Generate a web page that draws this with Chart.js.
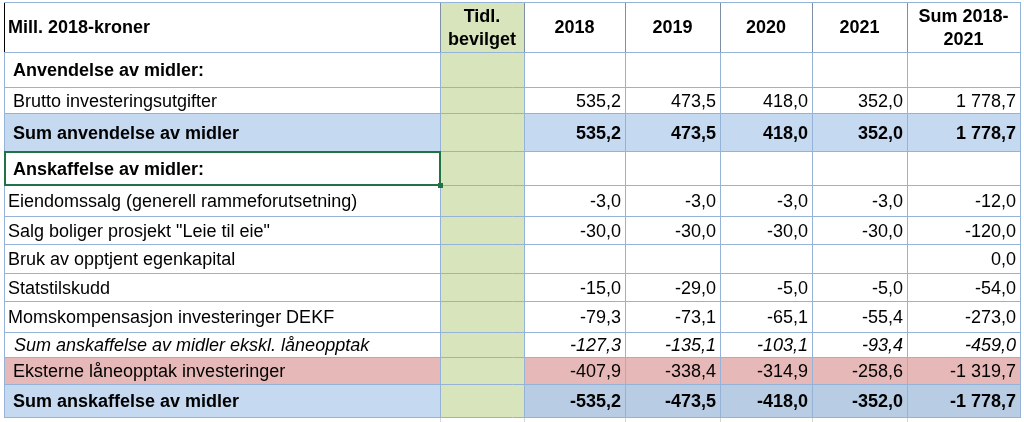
<!DOCTYPE html>
<html>
<head>
<meta charset="utf-8">
<script src="https://cdn.jsdelivr.net/npm/chart.js@4"></script>
<style>
  html, body { margin: 0; padding: 0; background: #fff; }
  canvas { display: block; }
</style>
</head>
<body>
<canvas id="table" width="1024" height="422"></canvas>
<script>
// data
const columnLabels = [['Mill. 2018-kroner'], ['Tidl.', 'bevilget'], ['2018'], ['2019'], ['2020'], ['2021'], ['Sum 2018-', '2021']];
const rowLabels = [
    'Anvendelse av midler:',
    'Brutto investeringsutgifter',
    'Sum anvendelse av midler',
    'Anskaffelse av midler:',
    'Eiendomssalg (generell rammeforutsetning)',
    'Salg boliger prosjekt "Leie til eie"',
    'Bruk av opptjent egenkapital',
    'Statstilskudd',
    'Momskompensasjon investeringer DEKF',
    'Sum anskaffelse av midler ekskl. låneopptak',
    'Eksterne låneopptak investeringer',
    'Sum anskaffelse av midler'
];
const tidlBevilget = [null, null, null, null, null, null, null, null, null, null, null, null];
const values2018 = [null, 535.2, 535.2, null, -3.0, -30.0, null, -15.0, -79.3, -127.3, -407.9, -535.2];
const values2019 = [null, 473.5, 473.5, null, -3.0, -30.0, null, -29.0, -73.1, -135.1, -338.4, -473.5];
const values2020 = [null, 418.0, 418.0, null, -3.0, -30.0, null, -5.0, -65.1, -103.1, -314.9, -418.0];
const values2021 = [null, 352.0, 352.0, null, -3.0, -30.0, null, -5.0, -55.4, -93.4, -258.6, -352.0];
const valuesSum = [null, 1778.7, 1778.7, null, -12.0, -120.0, 0.0, -54.0, -273.0, -459.0, -1319.7, -1778.7];

const valueColumns = [tidlBevilget, values2018, values2019, values2020, values2021, valuesSum];

// layout (scale units, 1 unit = 1 px)
const colEdges = [4, 440, 524, 625, 720, 812, 907, 1020];
const rowEdges = [2, 52, 87, 113, 151, 185, 216, 244, 273, 301, 332, 357, 384, 417];
const rowKinds = ['heading', 'item', 'sum', 'heading', 'plain', 'plain', 'plain', 'plain', 'plain', 'subtotal', 'loan', 'total'];

const kindStyle = {
    heading:  { weight: 'bold', italic: false, indent: 9, fill: null, dataFill: null },
    item:     { weight: 'normal', italic: false, indent: 9, fill: null, dataFill: null },
    sum:      { weight: 'bold', italic: false, indent: 9, fill: '#c5d9f1', dataFill: '#c5d9f1' },
    plain:    { weight: 'normal', italic: false, indent: 4, fill: null, dataFill: null },
    subtotal: { weight: 'normal', italic: true, indent: 10, fill: null, dataFill: null },
    loan:     { weight: 'normal', italic: false, indent: 9, fill: '#e6b8b7', dataFill: '#e6b8b7' },
    total:    { weight: 'bold', italic: false, indent: 9, fill: '#c5d9f1', dataFill: '#b8cce4' }
};

const FONT = '"Liberation Sans", Arial, sans-serif';
const GREEN = '#d8e4bc';
const GRID = '#95b3d7';

function formatNumber(v) {
    const parts = Math.abs(v).toFixed(1).split('.');
    const intPart = parts[0].replace(/\B(?=(\d{3})+(?!\d))/g, ' ');
    return (v < 0 ? '-' : '') + intPart + ',' + parts[1];
}

function fontFor(style, size) {
    return (style.italic ? 'italic ' : '') + style.weight + ' ' + size + 'px ' + FONT;
}

const tablePlugin = {
    id: 'tablePlugin',
    afterDraw(chart) {
        const ctx = chart.ctx;
        const xs = chart.scales.x;
        const ys = chart.scales.y;
        const px = v => Math.round(xs.getPixelForValue(v));
        const py = v => Math.round(ys.getPixelForValue(v));

        ctx.save();
        ctx.fillStyle = '#fff';
        ctx.fillRect(0, 0, chart.width, chart.height);

        // row fills
        rowKinds.forEach((kind, i) => {
            const st = kindStyle[kind];
            const y0 = py(rowEdges[i + 1]), y1 = py(rowEdges[i + 2]);
            if (st.fill) {
                ctx.fillStyle = st.fill;
                ctx.fillRect(px(colEdges[0]), y0, px(colEdges[1]) - px(colEdges[0]), y1 - y0);
            }
            if (st.dataFill) {
                ctx.fillStyle = st.dataFill;
                ctx.fillRect(px(colEdges[2]), y0, px(colEdges[7]) - px(colEdges[2]), y1 - y0);
            }
        });

        // green column
        ctx.fillStyle = GREEN;
        ctx.fillRect(px(colEdges[1]), py(rowEdges[0]), px(colEdges[2]) - px(colEdges[1]), py(rowEdges[rowEdges.length - 1]) - py(rowEdges[0]));

        // grid lines
        ctx.lineWidth = 1;
        const top = py(rowEdges[0]), bottom = py(rowEdges[rowEdges.length - 1]);
        const headBottom = py(rowEdges[1]);
        colEdges.forEach((c, j) => {
            const x = px(c) + 0.5;
            ctx.strokeStyle = GRID;
            ctx.beginPath();
            ctx.moveTo(x, headBottom);
            ctx.lineTo(x, bottom);
            ctx.stroke();
            ctx.strokeStyle = j === 0 ? '#000' : (j === colEdges.length - 1 ? GRID : '#7f8fa6');
            ctx.beginPath();
            ctx.moveTo(x, top);
            ctx.lineTo(x, headBottom);
            ctx.stroke();
            if (j > 0 && j < colEdges.length - 1) {
                ctx.strokeStyle = '#d4d4d4';
                ctx.beginPath();
                ctx.moveTo(x, bottom);
                ctx.lineTo(x, chart.height);
                ctx.stroke();
            }
        });
        rowEdges.forEach(r => {
            const y = py(r) + 0.5;
            ctx.strokeStyle = GRID;
            ctx.beginPath();
            ctx.moveTo(px(colEdges[0]), y);
            ctx.lineTo(px(colEdges[7]) + 1, y);
            ctx.stroke();
        });

        // selected cell (Anskaffelse av midler:)
        const sx0 = px(colEdges[0]), sx1 = px(colEdges[1]);
        const sy0 = py(rowEdges[4]), sy1 = py(rowEdges[5]);
        ctx.strokeStyle = '#217346';
        ctx.lineWidth = 2;
        ctx.strokeRect(sx0 + 1, sy0 + 1, sx1 - sx0 - 1, sy1 - sy0 - 1);
        ctx.fillStyle = '#217346';
        ctx.fillRect(sx1 - 2, sy1 - 2, 5, 5);

        // header text
        ctx.fillStyle = '#000';
        ctx.textBaseline = 'alphabetic';
        ctx.font = 'bold 18px ' + FONT;
        columnLabels.forEach((lines, j) => {
            const mid = (py(rowEdges[0]) + py(rowEdges[1])) / 2;
            if (j === 0) {
                ctx.textAlign = 'left';
                ctx.fillText(lines[0], px(colEdges[0]) + 4, mid + 6);
                return;
            }
            ctx.textAlign = 'center';
            const cx = (px(colEdges[j]) + px(colEdges[j + 1])) / 2;
            if (lines.length === 1) {
                ctx.fillText(lines[0], cx, mid + 6);
            } else {
                ctx.fillText(lines[0], cx, mid - 5);
                ctx.fillText(lines[1], cx, mid + 18);
            }
        });

        // body text
        rowLabels.forEach((label, i) => {
            const st = kindStyle[rowKinds[i]];
            const mid = (py(rowEdges[i + 1]) + py(rowEdges[i + 2])) / 2;
            ctx.font = fontFor(st, 18);
            ctx.fillStyle = '#000';
            ctx.textAlign = 'left';
            ctx.fillText(label, px(colEdges[0]) + st.indent, mid + 6.5);
            ctx.textAlign = 'right';
            valueColumns.forEach((col, j) => {
                const v = col[i];
                if (v === null || v === undefined) return;
                ctx.fillText(formatNumber(v), px(colEdges[j + 2]) - 4, mid + 6.5);
            });
        });
        ctx.restore();
    }
};

new Chart(document.getElementById('table'), {
    type: 'scatter',
    data: { labels: rowLabels, datasets: [] },
    options: {
        responsive: false,
        devicePixelRatio: 1,
        animation: false,
        layout: { padding: 0 },
        plugins: { legend: { display: false }, tooltip: { enabled: false } },
        scales: {
            x: { type: 'linear', min: 0, max: 1024, offset: false, display: false },
            y: { type: 'linear', min: 0, max: 422, offset: false, reverse: true, display: false }
        }
    },
    plugins: [tablePlugin]
});
</script>
</body>
</html>
